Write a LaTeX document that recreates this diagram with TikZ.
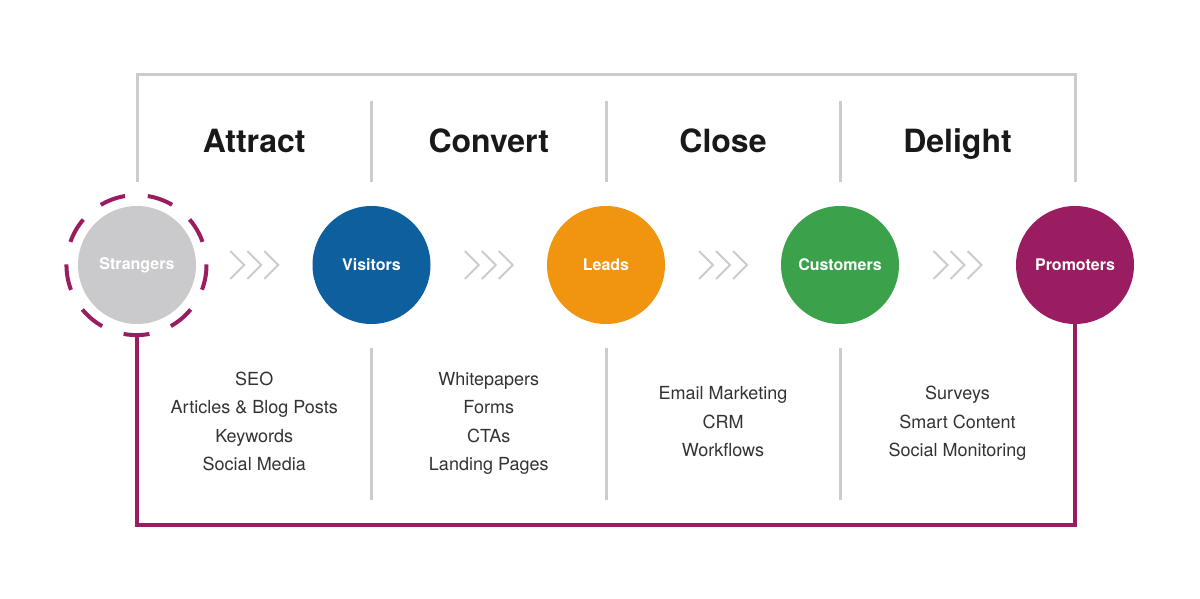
\documentclass[tikz,border=0pt]{standalone}
\usepackage{fontspec}
\setmainfont{TeX Gyre Heros}
\usepackage{tikz}
\usetikzlibrary{calc}
\definecolor{strangergray}{HTML}{CACACC}
\definecolor{visitorblue}{HTML}{0D5F9E}
\definecolor{leadorange}{HTML}{F19410}
\definecolor{customergreen}{HTML}{3BA14A}
\definecolor{promoterpurple}{HTML}{9B1D61}
\definecolor{linegray}{HTML}{CCCCCC}
\tikzstyle{stage node}  = [circle,inner sep=0,minimum size=118pt,text=white,font=\fontsize{16}{18}\selectfont\bfseries]
\tikzstyle{phase title} = [anchor=base,text=black!90,font=\fontsize{32}{36}\selectfont\bfseries]
\tikzstyle{tactic list} = [align=center,text depth=4pt,text=black!80,font=\fontsize{18}{28.5}\selectfont]
\tikzstyle{frame line}  = [draw=linegray,line width=3pt]
\tikzstyle{loop line}   = [draw=promoterpurple,line width=3.5pt]
\tikzstyle{ring line}   = [draw=promoterpurple,line width=4pt,dash pattern=on 26pt off 22.87pt]
\tikzstyle{chevron}     = [draw=linegray,line width=2pt]

\begin{document}
\begin{tikzpicture}[x=1pt,y=1pt]
\useasboundingbox[fill=white] (0,0) rectangle (1200,598);

    % the five stages
    \node(strangers)[stage node, fill=strangergray] at (137,333){Strangers};
    \node(visitors)[stage node, fill=visitorblue] at (371.5,333){Visitors};
    \node(leads)[stage node, fill=leadorange] at (606,333){Leads};
    \node(customers)[stage node, fill=customergreen] at (840,333){Customers};
    \node(promoters)[stage node, fill=promoterpurple] at (1075,333){Promoters};

    % dashed ring round the strangers
    \node(ring)[circle, inner sep=0, minimum size=140pt] at (strangers){};
    \draw[ring line] (ring.259.4) arc[start angle=259.4, delta angle=360, radius=70pt];

    % chevrons between the stages
    \foreach \a/\b in {strangers/visitors, visitors/leads, leads/customers, customers/promoters}
        \foreach \dx in {-17,0,17}
            \draw[chevron] ($(\a)!0.5!(\b)+(\dx-7,14)$) -- ++(14,-14) -- ++(-14,-14);

    % frame over the phases
    \draw[frame line] ($(strangers)+(0,83)$) |- ($(promoters)+(0,190)$) -- ($(promoters)+(0,83)$);
    \foreach \n in {visitors, leads, customers}{
        \draw[frame line] ($(\n)+(0,164)$) -- ($(\n)+(0,83)$);
        \draw[frame line] ($(\n)+(0,-83)$) -- ($(\n)+(0,-235)$);
    }

    % phase titles
    \node(attract)[phase title] at ($(strangers)!0.5!(visitors)+(0,112)$){Attract};
    \node(convert)[phase title] at ($(visitors)!0.5!(leads)+(0,112)$){Convert};
    \node(close)[phase title] at ($(leads)!0.5!(customers)+(0,112)$){Close};
    \node(delight)[phase title] at ($(customers)!0.5!(promoters)+(0,112)$){Delight};

    % tactics of each phase
    \node(attract list)[tactic list] at ($(strangers)!0.5!(visitors)+(0,-158.5)$){SEO\\Articles \& Blog Posts\\Keywords\\Social Media};
    \node(convert list)[tactic list] at ($(visitors)!0.5!(leads)+(0,-158.5)$){Whitepapers\\Forms\\CTAs\\Landing Pages};
    \node(close list)[tactic list] at ($(leads)!0.5!(customers)+(0,-158.5)$){Email Marketing\\CRM\\Workflows};
    \node(delight list)[tactic list] at ($(customers)!0.5!(promoters)+(0,-158.5)$){Surveys\\Smart Content\\Social Monitoring};

    % promoters bring in new strangers
    \draw[loop line] (ring.south) -- ++(0,-190) -| (promoters.south);

\end{tikzpicture}
\end{document}
